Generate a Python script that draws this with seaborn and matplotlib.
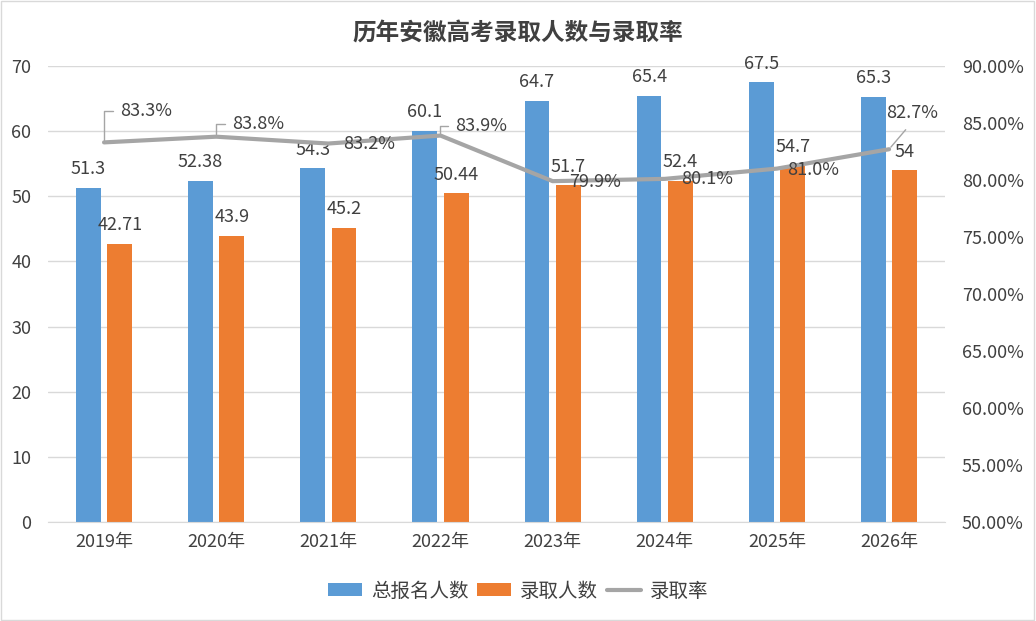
import numpy as np
import pandas as pd
import matplotlib
matplotlib.use("Agg")
import matplotlib.pyplot as plt
import seaborn as sns

years = ["2019年", "2020年", "2021年", "2022年", "2023年", "2024年", "2025年", "2026年"]
total = [51.3, 52.38, 54.3, 60.1, 64.7, 65.4, 67.5, 65.3]
admitted = [42.71, 43.9, 45.2, 50.44, 51.7, 52.4, 54.7, 54]
total_labels = ["51.3", "52.38", "54.3", "60.1", "64.7", "65.4", "67.5", "65.3"]
admitted_labels = ["42.71", "43.9", "45.2", "50.44", "51.7", "52.4", "54.7", "54"]
rate = [83.3, 83.8, 83.2, 83.9, 79.9, 80.1, 81.0, 82.7]
rate_labels = ["83.3%", "83.8%", "83.2%", "83.9%", "79.9%", "80.1%", "81.0%", "82.7%"]

sns.set_style("white")
plt.rcParams["font.family"] = ["Noto Sans CJK SC", "DejaVu Sans"]
txt = "#404040"
blue, orange, grey = "#5B9BD5", "#ED7D31", "#A5A5A5"

df = pd.DataFrame({
    "year": years * 2,
    "value": total + admitted,
    "series": ["总报名人数"] * 8 + ["录取人数"] * 8,
})

fig = plt.figure(figsize=(10.36, 6.21), dpi=100)
ax = fig.add_axes([0.0463, 0.1594, 0.866, 0.7343])

sns.barplot(data=df, x="year", y="value", hue="series", palette=[blue, orange],
            width=0.56, gap=0.21, ax=ax, legend=False, saturation=1, linewidth=0)
ax.set_xlim(-0.5, 7.5)
ax.set_ylim(0, 70)
ax.set_yticks(range(0, 71, 10))
ax.yaxis.grid(True, color="#D9D9D9", lw=1)
ax.set_axisbelow(True)
for s in ["top", "left", "right"]:
    ax.spines[s].set_visible(False)
ax.spines["bottom"].set_color("#D9D9D9")
ax.set_xlabel("")
ax.set_ylabel("")
ax.tick_params(axis="both", length=0, labelsize=13, colors=txt, pad=8)
ax.tick_params(axis="y", pad=12)

ax.bar_label(ax.containers[0], labels=total_labels, padding=7, fontsize=13, color=txt)
ax.bar_label(ax.containers[1], labels=admitted_labels, padding=7, fontsize=13, color=txt)

ax2 = ax.twinx()
sns.lineplot(x=np.arange(len(years)), y=rate, ax=ax2, color=grey, lw=3, legend=False)
ax2.set_ylim(50, 90)
ax2.set_yticks(range(50, 91, 5))
ax2.set_yticklabels([f"{v:.2f}%" for v in range(50, 91, 5)])
ax2.tick_params(axis="y", length=0, labelsize=13, colors=txt, pad=12)
for s in ax2.spines.values():
    s.set_visible(False)
ax2.set_xlim(-0.5, 7.5)

# rate labels: (dx, dy) offsets in pixels, leader line or not
offs = [(16, 31, True), (16, 13, True), (15, 0, False), (15, 10, True),
        (16, -1, False), (16, 0, False), (10, -1, False), (23, 36, True)]
for i, (dx, dy, lead) in enumerate(offs):
    if lead and i < 7:
        ax2.annotate(rate_labels[i], (i, rate[i]), xytext=(dx, dy), textcoords="offset pixels",
                     ha="left", va="center", fontsize=13, color=txt,
                     arrowprops=dict(arrowstyle="-", color=grey, lw=1, shrinkA=3, shrinkB=2,
                                     relpos=(0, 0.5), connectionstyle="angle,angleA=0,angleB=90"))
    elif lead:
        ax2.annotate(rate_labels[i], (i, rate[i]), xytext=(dx, dy), textcoords="offset pixels",
                     ha="center", va="center", fontsize=13, color=txt,
                     arrowprops=dict(arrowstyle="-", color=grey, lw=1, shrinkA=4, shrinkB=2,
                                     relpos=(0.5, 0)))
    else:
        ax2.annotate(rate_labels[i], (i, rate[i]), xytext=(dx, dy), textcoords="offset pixels",
                     ha="left", va="center", fontsize=13, color=txt)

fig.suptitle("历年安徽高考录取人数与录取率", x=0.5, y=0.965, fontsize=17,
             fontweight="bold", color=txt)

handles = [plt.Rectangle((0, 0), 1, 1, color=blue, lw=0), plt.Rectangle((0, 0), 1, 1, color=orange, lw=0),
           plt.Line2D([], [], color=grey, lw=3)]
fig.legend(handles, ["总报名人数", "录取人数", "录取率"], loc="center", bbox_to_anchor=(0.5, 0.048),
           ncol=3, frameon=False, fontsize=14, labelcolor=txt, handlelength=1.75,
           handleheight=0.65, columnspacing=0.45, handletextpad=0.45)

fig.patches.append(plt.Rectangle((0.001, 0.001), 0.997, 0.997, transform=fig.transFigure,
                                 fill=False, edgecolor="#D9D9D9", lw=1))

fig.savefig("out.png", dpi=100)
